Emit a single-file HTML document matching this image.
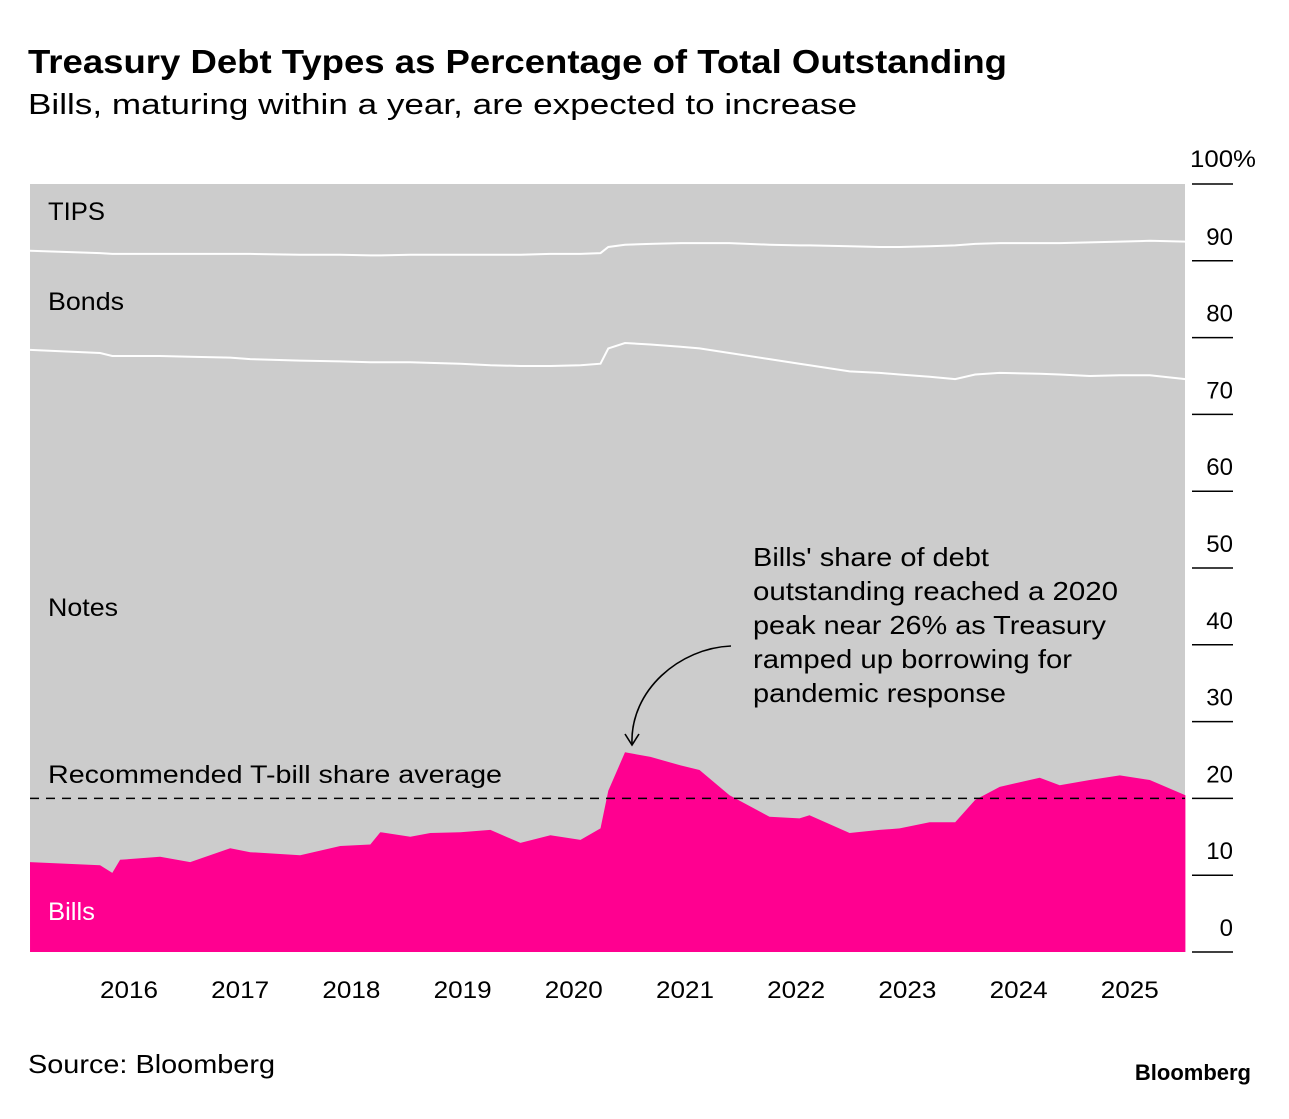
<!DOCTYPE html>
<html><head><meta charset="utf-8">
<style>
body{margin:0;background:#fff;width:1289px;height:1114px;overflow:hidden;font-family:"Liberation Sans",sans-serif;}
svg text{font-family:"Liberation Sans",sans-serif;}
</style></head>
<body>
<svg id="chart" width="1289" height="1114">
<text x="28" y="73" font-size="33" font-weight="bold" fill="#000" textLength="979" lengthAdjust="spacingAndGlyphs">Treasury Debt Types as Percentage of Total Outstanding</text>
<text x="28" y="114" font-size="29" fill="#000" textLength="829" lengthAdjust="spacingAndGlyphs">Bills, maturing within a year, are expected to increase</text>
<g id="plot"></g>
<g id="axes"></g>
<text x="28" y="1073" font-size="26" fill="#000" textLength="247" lengthAdjust="spacingAndGlyphs">Source: Bloomberg</text>
<text x="1251" y="1080" font-size="22" font-weight="bold" text-anchor="end" fill="#000">Bloomberg</text>
</svg>
<script>
const dates=[2015.11,2015.74,2015.85,2015.92,2016.28,2016.55,2016.91,2017.09,2017.54,2017.90,2018.17,2018.26,2018.53,2018.71,2018.98,2019.25,2019.52,2019.79,2020.06,2020.24,2020.31,2020.46,2020.69,2020.96,2021.13,2021.40,2021.76,2022.03,2022.12,2022.48,2022.75,2022.93,2023.20,2023.43,2023.61,2023.83,2024.19,2024.37,2024.64,2024.91,2025.18,2025.50];
const billsPct=[11.7,11.3,10.3,12.0,12.4,11.7,13.5,13.0,12.6,13.8,14.0,15.6,15.0,15.5,15.6,15.9,14.2,15.2,14.6,16.1,21.0,26.0,25.4,24.3,23.7,20.4,17.6,17.4,17.8,15.5,15.9,16.1,16.9,16.9,19.8,21.5,22.7,21.7,22.4,23.0,22.4,20.4];
const notesTopPct=[78.4,78.0,77.6,77.6,77.6,77.5,77.4,77.2,77.0,76.9,76.8,76.8,76.8,76.7,76.6,76.4,76.3,76.3,76.4,76.6,78.6,79.3,79.1,78.8,78.6,78.0,77.2,76.6,76.4,75.6,75.4,75.2,74.9,74.6,75.2,75.4,75.3,75.2,75.0,75.1,75.1,74.6];
const bondsTopPct=[91.3,91.0,90.9,90.9,90.9,90.9,90.9,90.9,90.8,90.8,90.7,90.7,90.8,90.8,90.8,90.8,90.8,90.9,90.9,91.0,91.8,92.1,92.2,92.3,92.3,92.3,92.1,92.0,92.0,91.9,91.8,91.8,91.9,92.0,92.2,92.3,92.3,92.3,92.4,92.5,92.6,92.5];
const yearTicks=[2016,2017,2018,2019,2020,2021,2022,2023,2024,2025];
const yTicks=[0,10,20,30,40,50,60,70,80,90,100];
const targetPct=20;
const X0=30,X1=1185,Y0=952,Y1=184;
const xs=d=>129+(d-2016)*111.2;
const ys=v=>Y0-(v/100)*(Y0-Y1);
const NS="http://www.w3.org/2000/svg";
const plot=document.getElementById('plot'),axes=document.getElementById('axes');
function mk(p,tag,attrs){const e=document.createElementNS(NS,tag);for(const k in attrs)e.setAttribute(k,attrs[k]);p.appendChild(e);return e;}
let bg=mk(plot,'rect',{x:X0,y:Y1,width:X1-X0,height:Y0-Y1,fill:'#cccccc'});


const line=arr=>dates.map((d,i)=>(i?'L':'M')+xs(d).toFixed(1)+','+ys(arr[i]).toFixed(1)).join('');
let bills=mk(plot,'path',{d:line(billsPct)+`L${xs(dates[dates.length-1])},${Y0}L${xs(dates[0])},${Y0}Z`,fill:'#ff0090'});


let l1=mk(plot,'path',{d:line(notesTopPct),fill:'none',stroke:'#fff','stroke-width':2});


let l2=mk(plot,'path',{d:line(bondsTopPct),fill:'none',stroke:'#fff','stroke-width':2});


let dl=mk(plot,'line',{x1:X0,x2:X1,y1:ys(targetPct),y2:ys(targetPct),stroke:'#000','stroke-width':1.5,'stroke-dasharray':'9,7'});


const labels=[['TIPS',48,220,'#000','tips-label',57],['Bonds',48,310,'#000','bonds-label',76],['Notes',48,616,'#000','notes-label',70],['Recommended T-bill share average',48,783,'#000','recommended-label',454],['Bills',48,920,'#fff','bills-label',47]];
labels.forEach(l=>{let t=mk(plot,'text',{x:l[1],y:l[2],'font-size':25,fill:l[3],textLength:l[5],lengthAdjust:'spacingAndGlyphs'});t.textContent=l[0];

});
const ann=["Bills' share of debt","outstanding reached a 2020","peak near 26% as Treasury","ramped up borrowing for","pandemic response"];
const annW=[236,365,353,319,253];
let ag=mk(plot,'g',{});


ann.forEach((s,i)=>{let t=mk(ag,'text',{x:753,y:566+i*34,'font-size':26,fill:'#000',textLength:annW[i],lengthAdjust:'spacingAndGlyphs'});t.textContent=s;});
mk(ag,'path',{d:'M731,646 C680,648 630,690 632,744',fill:'none',stroke:'#000','stroke-width':1.6});
mk(ag,'path',{d:'M625,734 L632,745 L639,734',fill:'none',stroke:'#000','stroke-width':1.6});
yTicks.forEach(v=>{let y=ys(v);
let tl=mk(axes,'line',{x1:1192,x2:1233,y1:y,y2:y,stroke:'#000','stroke-width':1.5});


let t=v===100?mk(axes,'text',{x:1190,y:y-17,'font-size':24,fill:'#000',textLength:66,lengthAdjust:'spacingAndGlyphs'}):mk(axes,'text',{x:1233,y:y-16,'font-size':24,'text-anchor':'end',fill:'#000'});
t.textContent=v===100?'100%':v;

});
yearTicks.forEach(yr=>{let x=xs(yr);
let t=mk(axes,'text',{x:x,y:998,'font-size':24,'text-anchor':'middle',fill:'#000',textLength:58,lengthAdjust:'spacingAndGlyphs'});t.textContent=yr;

});
</script>
</body></html>
